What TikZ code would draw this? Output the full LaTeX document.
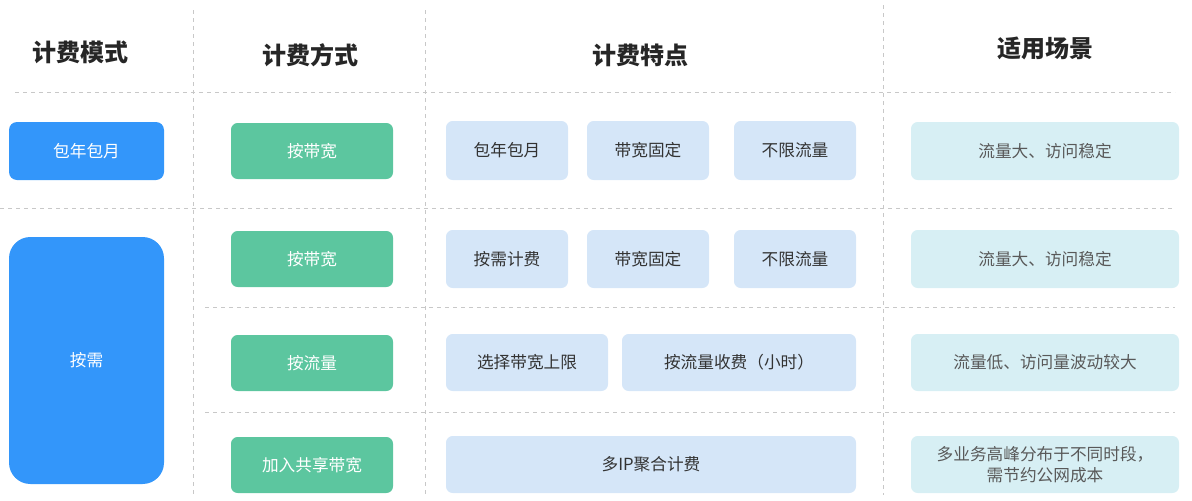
\documentclass[tikz,border=0pt]{standalone}
\usepackage{fontspec}
\newfontfamily\cjk{Noto Sans CJK SC}
\definecolor{bblue}{HTML}{3396FA}
\definecolor{bgreen}{HTML}{5CC69F}
\definecolor{lblue}{HTML}{D5E6F8}
\definecolor{lcyan}{HTML}{D7EFF4}
\definecolor{dline}{HTML}{C8C8C8}
\begin{document}
\begin{tikzpicture}[x=0.75pt,y=-0.75pt,
  hdr/.style={font=\cjk\bfseries\fontsize{18}{20}\selectfont,text=black!85},
  modebox/.style={fill=bblue,rounded corners=6pt},
  waybox/.style={fill=bgreen,rounded corners=5pt},
  featbox/.style={fill=lblue,rounded corners=5pt},
  scenbox/.style={fill=lcyan,rounded corners=5pt},
  lbl/.style={font=\cjk\fontsize{12.5}{16}\selectfont,align=center},
  sep/.style={draw=dline,dashed,line width=0.6pt}]
\useasboundingbox (0,0) rectangle (1192,500);
\node[hdr] (h1) at (80,52) {计费模式};
\node[hdr] (h2) at (310,55) {计费方式};
\node[hdr] (h3) at (640,55) {计费特点};
\node[hdr] (h4) at (1045,48) {适用场景};
\draw[sep] (193,10) -- (193,495);
\draw[sep] (425,10) -- (425,495);
\draw[sep] (883,5) -- (883,495);
\draw[sep] (15,92) -- (1175,92);
\draw[sep] (0,208) -- (1175,208);
\draw[sep] (205,307) -- (1175,307);
\draw[sep] (205,412) -- (1175,412);
% modes
\path[modebox] (9,122) rectangle (164,180);
\node[lbl,text=white] (m1) at (86.5,151) {包年包月};
\path[modebox,rounded corners=16pt] (9,237) rectangle (164,484);
\node[lbl,text=white] (m2) at (86.5,360) {按需};
% ways
\foreach \n/\a/\b/\t in {w1/123/179/按带宽, w2/231/287/按带宽, w3/335/391/按流量, w4/437/493/加入共享带宽}{
  \path[waybox] (231,\a) rectangle (393,\b);
  \node[lbl,text=white] (\n) at (312,{(\a+\b)/2}) {\t};
}
% features
\foreach \n/\xa/\xb/\a/\b/\t in {f11/446/568/121/180/包年包月, f12/587/709/121/180/带宽固定, f13/734/856/121/180/不限流量,
  f21/446/568/230/288/按需计费, f22/587/709/230/288/带宽固定, f23/734/856/230/288/不限流量,
  f31/446/608/334/391/选择带宽上限, f32/622/856/334/391/按流量收费（小时）, f41/446/856/436/493/多IP聚合计费}{
  \path[featbox] (\xa,\a) rectangle (\xb,\b);
  \node[lbl,text=black!80] (\n) at ({(\xa+\xb)/2},{(\a+\b)/2}) {\t};
}
% scenarios
\foreach \n/\a/\b/\t in {s1/122/180/流量大、访问稳定, s2/230/288/流量大、访问稳定, s3/334/391/流量低、访问量波动较大, s4/436/493/{多业务高峰分布于不同时段，\\需节约公网成本}}{
  \path[scenbox] (911,\a) rectangle (1179,\b);
  \node[lbl,text=black!65] (\n) at (1045,{(\a+\b)/2}) {\t};
}
\end{tikzpicture}
\end{document}
